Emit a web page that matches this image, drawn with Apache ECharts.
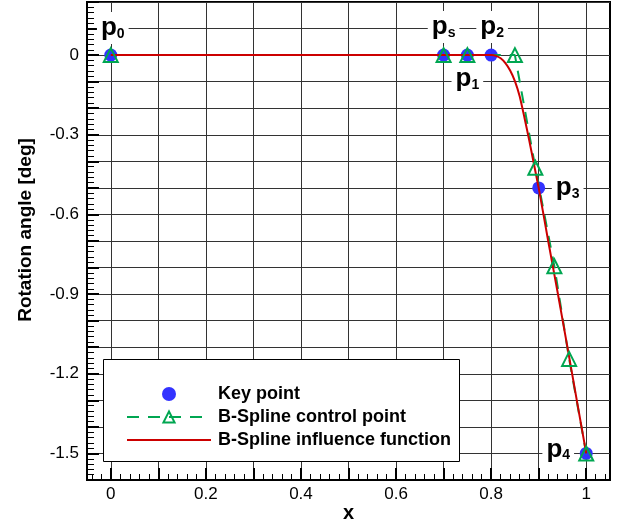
<!DOCTYPE html>
<html>
<head>
<meta charset="utf-8">
<script src="https://cdn.jsdelivr.net/npm/echarts@6/dist/echarts.min.js"></script>
<style>
html,body{margin:0;padding:0;background:#fff;}
#chart{width:624px;height:523px;}
</style>
</head>
<body>
<div id="chart"></div>
<script>
// ---- data ----
const xTickValues = [0, 0.1, 0.2, 0.3, 0.4, 0.5, 0.6, 0.7, 0.8, 0.9, 1.0];
const xLabelValues = [0, 0.2, 0.4, 0.6, 0.8, 1];
const yLabelValues = [0, -0.3, -0.6, -0.9, -1.2, -1.5];

const keyPointX = [0, 0.7, 0.75, 0.8, 0.9, 1.0];
const keyPointY = [0, 0, 0, 0, -0.5, -1.5];
const keyPointSub = ['0', 's', '1', '2', '3', '4'];

const controlX = [0, 0.7, 0.75, 0.85, 0.893, 0.933, 0.964, 1.0];
const controlY = [0, 0, 0, 0, -0.424, -0.795, -1.144, -1.5];

const curveX = [0, 0.8, 0.81, 0.82, 0.83, 0.84, 0.85, 0.86, 0.87, 0.88, 0.89, 0.90, 0.92, 0.94, 0.96, 0.98, 1.0];
const curveY = [0, 0, -0.003, -0.012, -0.03, -0.058, -0.098, -0.155, -0.235, -0.32, -0.41, -0.50, -0.70, -0.895, -1.095, -1.298, -1.5];

const seriesNames = ['Key point', 'B-Spline control point', 'B-Spline influence function'];

// ---- styling ----
const FONT = 'Liberation Sans, Arial, Helvetica, sans-serif';
const BLUE = '#3333ff', GREEN = '#00a651', RED = '#cc0000', GRID = '#333333';

// minor tick positions for x (every 0.02, excluding majors)
const xMinorValues = [];
for (let k = -2; k <= 52; k++) {
  if (k % 5 !== 0) xMinorValues.push(Math.round(k * 2) / 100);
}

// label offsets (pixels) for the key point labels, in order p0, ps, p1, p2, p3, p4
const labelOffsets = [[2, -27], [0, -28], [0, 24], [1, -28], [29, 0], [-28, -4]];

const chart = echarts.init(document.getElementById('chart'), null, {renderer: 'canvas'});

const option = {
  animation: false,
  backgroundColor: '#fff',
  textStyle: {fontFamily: FONT},
  grid: {left: 87, right: 14, top: 2, bottom: 43, show: true, borderColor: '#000', borderWidth: 2,
         containLabel: false, outerBoundsMode: 'none'},
  xAxis: [{
    type: 'value', min: -0.05, max: 1.05, gridIndex: 0, position: 'bottom',
    axisLine: {show: true, onZero: false, lineStyle: {color: '#000', width: 2}},
    axisTick: {show: true, inside: true, length: 12, customValues: xTickValues, lineStyle: {color: '#000', width: 2}},
    splitLine: {show: true, lineStyle: {color: GRID, width: 1}},
    axisLabel: {customValues: xLabelValues, fontSize: 17, color: '#000', fontFamily: FONT, margin: 6},
    name: 'x', nameLocation: 'middle', nameGap: 23, nameMoveOverlap: false,
    nameTextStyle: {fontSize: 20, fontWeight: 'bold', color: '#000', fontFamily: FONT}
  }, {
    type: 'value', min: -0.05, max: 1.05, gridIndex: 0, position: 'bottom',
    axisLine: {show: false, onZero: false},
    axisLabel: {show: false},
    splitLine: {show: false},
    axisTick: {show: true, inside: true, length: 6, customValues: xMinorValues, lineStyle: {color: '#000', width: 1}}
  }],
  yAxis: {
    type: 'value', min: -1.6, max: 0.2, interval: 0.1,
    axisLine: {show: true, onZero: false, lineStyle: {color: '#000', width: 2}},
    axisTick: {show: true, inside: true, length: 12, lineStyle: {color: '#000', width: 2}},
    minorTick: {show: true, splitNumber: 5, length: 7, lineStyle: {color: '#000', width: 1}},
    splitLine: {show: true, lineStyle: {color: GRID, width: 1}},
    axisLabel: {customValues: yLabelValues, fontSize: 17, color: '#000', fontFamily: FONT, margin: 8},
    name: 'Rotation angle [deg]', nameLocation: 'middle', nameGap: 52, nameMoveOverlap: false,
    nameTextStyle: {fontSize: 19, fontWeight: 'bold', color: '#000', fontFamily: FONT, padding: [0, 0, 0, 22]}
  },
  legend: {
    orient: 'vertical', left: 121, top: 380, itemWidth: 84, itemHeight: 14, itemGap: 5,
    selectedMode: false, z: 10,
    data: seriesNames,
    textStyle: {fontSize: 18, fontWeight: 'bold', color: '#000', fontFamily: FONT, padding: [0, 0, 0, 2]}
  },
  graphic: [{
    type: 'rect', z: 9,
    shape: {x: 103.5, y: 359.5, width: 356, height: 102},
    style: {fill: '#fff', stroke: '#000', lineWidth: 1}
  }],
  series: [{
    name: seriesNames[0], type: 'scatter', symbol: 'circle', symbolSize: 13,
    itemStyle: {color: BLUE, opacity: 1},
    data: keyPointX.map((x, i) => ({
      value: [x, keyPointY[i]],
      label: {offset: labelOffsets[i]}
    })),
    label: {
      show: true, position: 'inside',
      color: '#000', textBorderWidth: 0, textBorderColor: 'transparent',
      formatter: p => '{p|p}{s|' + keyPointSub[p.dataIndex] + '}',
      backgroundColor: '#fff', padding: [3, 4, 3, 4],
      rich: {
        p: {fontSize: 26, fontWeight: 'bold', color: '#000', fontFamily: FONT, lineHeight: 26,
            textBorderWidth: 0},
        s: {fontSize: 14, fontWeight: 'bold', color: '#000', fontFamily: FONT, lineHeight: 24,
            verticalAlign: 'bottom', textBorderWidth: 0}
      }
    }
  }, {
    name: seriesNames[1], type: 'line',
    data: controlX.map((x, i) => [x, controlY[i]]),
    symbol: 'triangle', symbolSize: 14, showSymbol: true,
    itemStyle: {color: 'rgba(0,0,0,0)', borderColor: GREEN, borderWidth: 2},
    lineStyle: {color: GREEN, width: 2, type: [12, 9]}
  }, {
    name: seriesNames[2], type: 'line',
    data: curveX.map((x, i) => [x, curveY[i]]),
    symbol: 'none', showSymbol: false, smooth: 0.2,
    itemStyle: {color: 'rgba(0,0,0,0)'},
    lineStyle: {color: RED, width: 2}
  }]
};
chart.setOption(option);
</script>
</body>
</html>
